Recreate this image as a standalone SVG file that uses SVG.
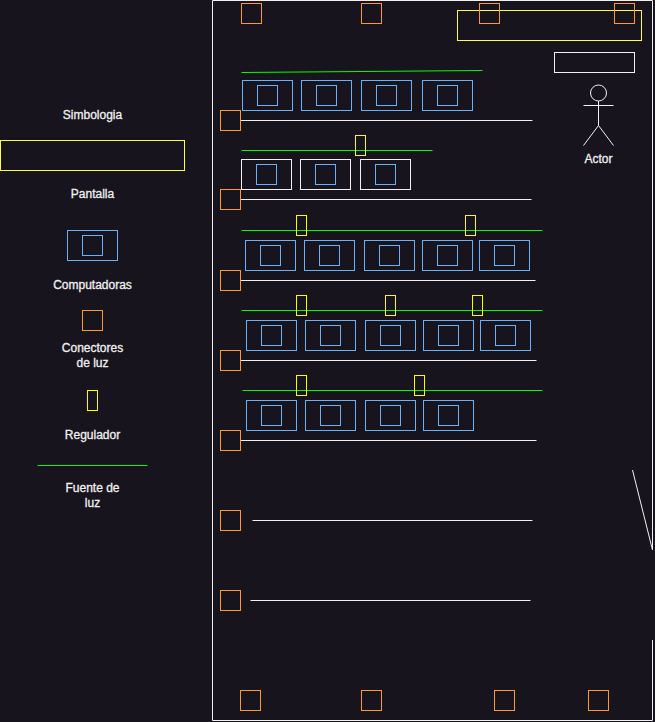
<svg xmlns="http://www.w3.org/2000/svg" width="655" height="722" viewBox="0 0 655 722">
<defs>
<style>
.s{fill:none;stroke-width:1}
.o{stroke:#ff9933}
.y{stroke:#ffff00}
.sc{stroke:#ffff4d}
.b{stroke:#66b2ff}
.w{stroke:#f0f0f0}
.g{stroke:#00ff00}
text{font-family:"Liberation Sans",Arial,sans-serif;font-size:12px;fill:#f0f0f0;stroke:#f0f0f0;stroke-width:.3;text-anchor:middle}
</style>
<g id="pc"><rect class="s b" width="50" height="30"/><rect class="s b" x="15" y="5" width="20" height="20"/></g>
<g id="pcw"><rect class="s w" width="50" height="30"/><rect class="s b" x="15" y="5" width="20" height="20"/></g>
<rect id="oc" class="s o" width="20" height="20"/>
<rect id="rg" class="s y" width="10" height="20"/>
</defs>
<rect width="655" height="722" fill="#18141d"/>
<g id="room"><path class="s w" d="M652.5 550V0.5H212.5V720.5H652.5V640"/><path class="s w" d="M632.5 470L652.5 550"/></g>
<g id="legend">
<text x="92.5" y="119">Simbologia</text>
<rect class="s sc" x="0.5" y="140.5" width="184" height="30"/>
<text x="92.5" y="198">Pantalla</text>
<use href="#pc" x="67.5" y="230.5"/>
<text x="92.5" y="289">Computadoras</text>
<use href="#oc" x="82.5" y="310.5"/>
<text x="92.5" y="352">Conectores</text>
<text x="92.5" y="367">de luz</text>
<use href="#rg" x="87.5" y="390.5"/>
<text x="92.5" y="439">Regulador</text>
<path class="s g" d="M37.5 465.5H147.5"/>
<text x="92.5" y="492">Fuente de</text>
<text x="92.5" y="507">luz</text>
</g>
<g id="connectors">
<path class="s g" d="M241.5 72.5L482.5 70.5M241.5 150.5H432.5M241.5 230.5H542.5M241.5 310.5H542.5M242.5 390.5H542.5"/>
<path class="s w" d="M240.5 120.5H532.5M240.5 199.5H531.5M240.5 280.5H535.5M240.5 360.5H536.5M240.5 440.5H536.5M252.5 520.5H532.5M250.5 600.5H530.5"/>
</g>
<g id="screen-top"><rect class="s sc" x="457.5" y="10.5" width="184" height="30"/></g>
<g id="screen-2"><rect class="s w" x="554.5" y="52.5" width="80" height="20"/></g>
<g id="actor">
<circle class="s w" cx="598.5" cy="93" r="8"/>
<path class="s w" d="M598.5 101V125.5M583.5 105.5H613.5M583.5 145.5L598.5 125.5L613.5 145.5"/>
<text x="598.5" y="163">Actor</text>
</g>
<g id="connectors-light">
<use href="#oc" x="241.5" y="3.5"/><use href="#oc" x="361.5" y="3.5"/><use href="#oc" x="479.5" y="3.5"/><use href="#oc" x="614.5" y="3.5"/>
<use href="#oc" x="220.5" y="110.5"/><use href="#oc" x="220.5" y="189.5"/><use href="#oc" x="220.5" y="270.5"/><use href="#oc" x="220.5" y="350.5"/><use href="#oc" x="220.5" y="430.5"/><use href="#oc" x="220.5" y="510.5"/><use href="#oc" x="220.5" y="590.5"/>
<use href="#oc" x="240.5" y="690.5"/><use href="#oc" x="361.5" y="690.5"/><use href="#oc" x="494.5" y="690.5"/><use href="#oc" x="588.5" y="690.5"/>
</g>
<g id="regulators">
<use href="#rg" x="355.5" y="135.5"/>
<use href="#rg" x="296.5" y="215.5"/><use href="#rg" x="465.5" y="215.5"/>
<use href="#rg" x="296.5" y="295.5"/><use href="#rg" x="385.5" y="295.5"/><use href="#rg" x="472.5" y="295.5"/>
<use href="#rg" x="296.5" y="375.5"/><use href="#rg" x="414.5" y="375.5"/>
</g>
<g id="computers">
<use href="#pc" x="242.5" y="80.5"/><use href="#pc" x="301.5" y="80.5"/><use href="#pc" x="361.5" y="80.5"/><use href="#pc" x="422.5" y="80.5"/>
<use href="#pcw" x="241.5" y="159.5"/><use href="#pcw" x="300.5" y="159.5"/><use href="#pcw" x="360.5" y="159.5"/>
<use href="#pc" x="245.5" y="240.5"/><use href="#pc" x="304.5" y="240.5"/><use href="#pc" x="364.5" y="240.5"/><use href="#pc" x="422.5" y="240.5"/><use href="#pc" x="479.5" y="240.5"/>
<use href="#pc" x="246.5" y="320.5"/><use href="#pc" x="305.5" y="320.5"/><use href="#pc" x="365.5" y="320.5"/><use href="#pc" x="423.5" y="320.5"/><use href="#pc" x="480.5" y="320.5"/>
<use href="#pc" x="246.5" y="400.5"/><use href="#pc" x="305.5" y="400.5"/><use href="#pc" x="365.5" y="400.5"/><use href="#pc" x="423.5" y="400.5"/>
</g>
</svg>
